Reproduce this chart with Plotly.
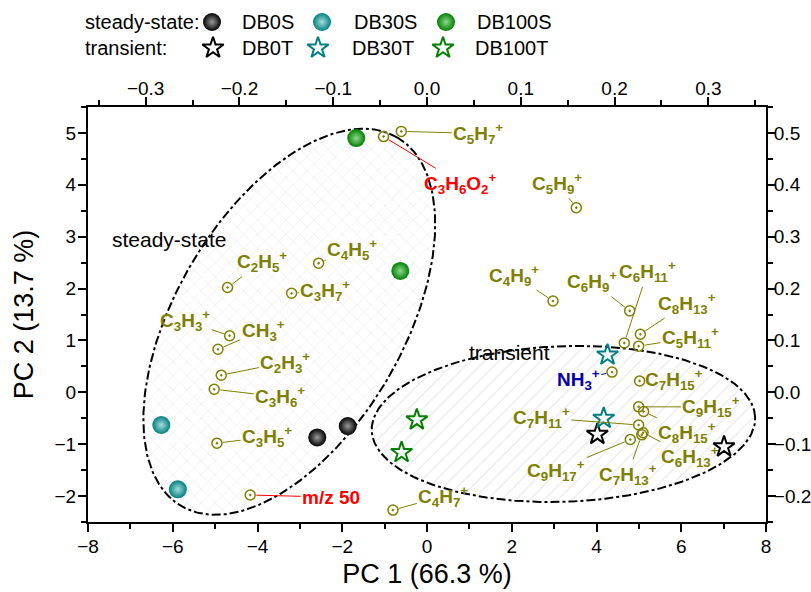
import numpy as np
import plotly.graph_objects as go

# ---------------- data ----------------
# scores (bottom / left axes)
DB0S_PC1 = [-2.59, -1.87]
DB0S_PC2 = [-0.87, -0.65]
DB30S_PC1 = [-6.27, -5.88]
DB30S_PC2 = [-0.63, -1.87]
DB100S_PC1 = [-1.67, -0.63]
DB100S_PC2 = [4.90, 2.34]
DB0T_PC1 = [4.02, 7.01]
DB0T_PC2 = [-0.81, -1.05]
DB30T_PC1 = [4.26, 4.17]
DB30T_PC2 = [0.72, -0.50]
DB100T_PC1 = [-0.24, -0.60]
DB100T_PC2 = [-0.53, -1.16]

# loadings (top / right axes)
SPECIES = ["C5H7+", "C3H6O2+", "C2H5+", "C4H5+", "C3H7+", "C3H3+", "CH3+", "C2H3+",
           "C3H6+", "C3H5+", "m/z 50", "C4H7+", "C5H9+", "C4H9+", "C6H9+", "C6H11+",
           "C8H13+", "C5H11+", "NH3+", "C7H15+", "C9H15+", "C8H15+", "C7H11+", "C6H13+",
           "C9H17+", "C7H13+"]
SPECIES_HTML = ["C<sub>5</sub>H<sub>7</sub><sup>+</sup>",
                "C<sub>3</sub>H<sub>6</sub>O<sub>2</sub><sup>+</sup>",
                "C<sub>2</sub>H<sub>5</sub><sup>+</sup>",
                "C<sub>4</sub>H<sub>5</sub><sup>+</sup>",
                "C<sub>3</sub>H<sub>7</sub><sup>+</sup>",
                "C<sub>3</sub>H<sub>3</sub><sup>+</sup>",
                "CH<sub>3</sub><sup>+</sup>",
                "C<sub>2</sub>H<sub>3</sub><sup>+</sup>",
                "C<sub>3</sub>H<sub>6</sub><sup>+</sup>",
                "C<sub>3</sub>H<sub>5</sub><sup>+</sup>",
                "m/z 50",
                "C<sub>4</sub>H<sub>7</sub><sup>+</sup>",
                "C<sub>5</sub>H<sub>9</sub><sup>+</sup>",
                "C<sub>4</sub>H<sub>9</sub><sup>+</sup>",
                "C<sub>6</sub>H<sub>9</sub><sup>+</sup>",
                "C<sub>6</sub>H<sub>11</sub><sup>+</sup>",
                "C<sub>8</sub>H<sub>13</sub><sup>+</sup>",
                "C<sub>5</sub>H<sub>11</sub><sup>+</sup>",
                "NH<sub>3</sub><sup>+</sup>",
                "C<sub>7</sub>H<sub>15</sub><sup>+</sup>",
                "C<sub>9</sub>H<sub>15</sub><sup>+</sup>",
                "C<sub>8</sub>H<sub>15</sub><sup>+</sup>",
                "C<sub>7</sub>H<sub>11</sub><sup>+</sup>",
                "C<sub>6</sub>H<sub>13</sub><sup>+</sup>",
                "C<sub>9</sub>H<sub>17</sub><sup>+</sup>",
                "C<sub>7</sub>H<sub>13</sub><sup>+</sup>"]
LOAD_PC1 = [-0.0274, -0.0463, -0.2127, -0.1156, -0.1444, -0.2105, -0.2229, -0.2194,
            -0.2269, -0.2240, -0.1885, -0.0363, 0.1592, 0.1344, 0.2161, 0.2104,
            0.2275, 0.2257, 0.1973, 0.2267, 0.2257, 0.2310, 0.2257, 0.2304,
            0.2168, 0.2290]
LOAD_PC2 = [0.503, 0.493, 0.202, 0.249, 0.191, 0.109, 0.083, 0.033,
            0.006, -0.098, -0.198, -0.227, 0.356, 0.176, 0.157, 0.095,
            0.112, 0.089, 0.039, 0.022, -0.028, -0.037, -0.063, -0.078,
            -0.091, -0.082]

# label placement (layout, in loading-axis units) and label colours (style)
LABEL_X = [0.0547, 0.0355, -0.1757, -0.0797, -0.1085, -0.2578, -0.1746, -0.1511,
           -0.1565, -0.1703, -0.1021, 0.0174, 0.1390, 0.0931, 0.1763, 0.2350,
           0.2776, 0.2808, 0.1614, 0.2638, 0.3032, 0.2776, 0.1219, 0.2800,
           0.1379, 0.2140]
LABEL_Y = [0.499, 0.403, 0.252, 0.275, 0.197, 0.138, 0.120, 0.058,
           -0.009, -0.086, -0.202, -0.200, 0.403, 0.226, 0.213, 0.232,
           0.172, 0.105, 0.024, 0.024, -0.028, -0.077, -0.049, -0.124,
           -0.150, -0.158]

OLIVE = "#808000"
RED = "#ff0000"
BLUE = "#0000b0"
LABEL_COLOR = [OLIVE] * len(SPECIES)
LABEL_COLOR[SPECIES.index("C3H6O2+")] = RED
LABEL_COLOR[SPECIES.index("m/z 50")] = RED
LABEL_COLOR[SPECIES.index("NH3+")] = BLUE

X_RANGE = [-8, 8]
Y_RANGE = [-2.5, 5.5]
TOP_RANGE = [-0.3615, 0.3615]
RIGHT_RANGE = [-0.25, 0.55]

# ---------------- layout geometry ----------------
W, H = 811, 592
ML, MR, MT, MB = 88, 45, 0, 70
PLOT_W = W - ML - MR
PLOT_H = H - MT - MB
MAIN_TOP = 107
YDOM_TOP = (PLOT_H - MAIN_TOP) / PLOT_H
PX_X = PLOT_W / (X_RANGE[1] - X_RANGE[0])
PX_Y = (PLOT_H - MAIN_TOP) / (Y_RANGE[1] - Y_RANGE[0])

FONT = "Liberation Sans, Arial, sans-serif"
BLACK = "#000000"
TEAL = "#008080"
GREEN = "#008000"


def ellipse(cx, cy, a_px, b_px, ang_deg, n=240):
    t = np.linspace(0, 2 * np.pi, n)
    p = np.radians(ang_deg)
    dx = a_px * np.cos(t) * np.cos(p) - b_px * np.sin(t) * np.sin(p)
    dy = a_px * np.cos(t) * np.sin(p) + b_px * np.sin(t) * np.cos(p)
    return cx + dx / PX_X, cy + dy / PX_Y


fig = go.Figure()

sx, sy = ellipse(-3.25, 1.36, 213.6, 113.7, 59.6)
fig.add_trace(go.Scatter(x=sx, y=sy, mode="lines", fill="toself",
                         fillcolor="rgba(255,255,255,0)",
                         fillpattern=dict(shape="x", fgcolor="#cccccc",
                                          bgcolor="rgba(255,255,255,0)", size=10, solidity=0.1),
                         line=dict(color="black", width=2, dash="dashdot"),
                         hoverinfo="skip", showlegend=False))
tx, ty = ellipse(3.22, -0.61, 191.8, 77.8, 2.0)
fig.add_trace(go.Scatter(x=tx, y=ty, mode="lines", fill="toself",
                         fillcolor="rgba(255,255,255,0)",
                         fillpattern=dict(shape="/", fgcolor="#cccccc",
                                          bgcolor="rgba(255,255,255,0)", size=10, solidity=0.1),
                         line=dict(color="black", width=2, dash="dashdot"),
                         hoverinfo="skip", showlegend=False))

# loadings
fig.add_trace(go.Scatter(x=LOAD_PC1, y=LOAD_PC2, xaxis="x2", yaxis="y2", mode="markers",
                         marker=dict(symbol="circle-open-dot", size=10, color=OLIVE,
                                     line=dict(width=1.5, color=OLIVE)),
                         text=SPECIES, showlegend=False))


def sphere(color, center):
    return dict(symbol="circle", size=18, color=color,
                gradient=dict(type="radial", color=center), line=dict(width=0))


def star(color):
    return dict(symbol="star-open", size=16, color=color, line=dict(width=2, color=color))


SCORES = [
    ("DB0S", DB0S_PC1, DB0S_PC2, sphere(BLACK, "#9a9a9a")),
    ("DB30S", DB30S_PC1, DB30S_PC2, sphere(TEAL, "#a8dcdc")),
    ("DB100S", DB100S_PC1, DB100S_PC2, sphere(GREEN, "#8fd88f")),
    ("DB0T", DB0T_PC1, DB0T_PC2, star(BLACK)),
    ("DB30T", DB30T_PC1, DB30T_PC2, star(TEAL)),
    ("DB100T", DB100T_PC1, DB100T_PC2, star(GREEN)),
]
for name, xs, ys, mk in SCORES:
    fig.add_trace(go.Scatter(x=xs, y=ys, mode="markers", marker=mk, name=name, showlegend=False))

# custom legend (own hidden axes above the plot)
LEG_ROW_Y = [22, 48]
LEG_MARK_X = [[212, 322, 446], [213, 318, 443]]
LEG_TEXT_X = [[240, 352, 475], [240, 350, 473]]
for k, (name, _, _, mk) in enumerate(SCORES):
    r, c = divmod(k, 3)
    fig.add_trace(go.Scatter(x=[LEG_MARK_X[r][c]], y=[LEG_ROW_Y[r]], xaxis="x5", yaxis="y5",
                             mode="markers", marker=mk, showlegend=False, hoverinfo="skip"))

annotations = []
for k, (name, _, _, _) in enumerate(SCORES):
    r, c = divmod(k, 3)
    annotations.append(dict(x=LEG_TEXT_X[r][c], y=LEG_ROW_Y[r], xref="x5", yref="y5",
                            text=name, showarrow=False, xanchor="left", yanchor="middle",
                            font=dict(size=20, color="black", family=FONT)))
for r, txt in enumerate(["steady-state:", "transient:"]):
    annotations.append(dict(x=(83 - ML) / PLOT_W, y=LEG_ROW_Y[r], xref="paper", yref="y5",
                            text=txt, showarrow=False, xanchor="left", yanchor="middle",
                            font=dict(size=20, color="black", family=FONT)))

# group labels
annotations.append(dict(x=-6.10, y=2.94, xref="x", yref="y", text="steady-state", showarrow=False,
                        font=dict(size=21, color="black", family=FONT)))
annotations.append(dict(x=1.94, y=0.76, xref="x", yref="y", text="transient", showarrow=False,
                        font=dict(size=21, color="black", family=FONT)))

# species labels
for i, html in enumerate(SPECIES_HTML):
    annotations.append(dict(x=LOAD_PC1[i], y=LOAD_PC2[i], xref="x2", yref="y2",
                            ax=LABEL_X[i], ay=LABEL_Y[i], axref="x2", ayref="y2",
                            text="<b>" + html + "</b>", showarrow=True, arrowhead=0,
                            arrowwidth=1, arrowcolor=LABEL_COLOR[i], standoff=6,
                            font=dict(size=19, color=LABEL_COLOR[i], family=FONT)))

axis_common = dict(showline=True, linecolor="black", linewidth=2, showgrid=False, zeroline=False,
                   ticks="outside", ticklen=8, tickwidth=1.5, tickcolor="black",
                   tickfont=dict(size=19, color="black", family=FONT), automargin=False)
inner_common = dict(showline=False, showgrid=False, zeroline=False, ticks="inside", ticklen=8,
                    tickwidth=1.5, tickcolor="black", showticklabels=False, automargin=False)
minor_out = dict(ticks="outside", ticklen=5, tickwidth=1.5, tickcolor="black")
minor_in = dict(ticks="inside", ticklen=5, tickwidth=1.5, tickcolor="black")

fig.update_layout(
    width=W, height=H, margin=dict(l=ML, r=MR, t=MT, b=MB),
    paper_bgcolor="white", plot_bgcolor="white",
    font=dict(family=FONT, color="black"),
    showlegend=False,
    xaxis=dict(**axis_common, range=X_RANGE, tick0=0, dtick=2, domain=[0, 1], anchor="y",
               minor=dict(dtick=1, **minor_out), ticklabelstandoff=-2,
               title=dict(text="PC 1 (66.3 %)", font=dict(size=27, family=FONT), standoff=8)),
    xaxis2=dict(**axis_common, range=TOP_RANGE, tick0=0, dtick=0.1, tickformat=".1f",
                overlaying="x", side="top", anchor="y", ticklabelstandoff=-6,
                minor=dict(dtick=0.05, **minor_out)),
    yaxis=dict(**axis_common, range=Y_RANGE, tick0=0, dtick=1, domain=[0, YDOM_TOP], anchor="x",
               minor=dict(dtick=0.5, **minor_out), ticklabelstandoff=-2,
               title=dict(text="PC 2 (13.7 %)", font=dict(size=27, family=FONT), standoff=13)),
    yaxis2=dict(**axis_common, range=RIGHT_RANGE, tick0=0, dtick=0.1, tickformat=".1f",
                overlaying="y", side="right", anchor="x", ticklabelstandoff=-6,
                minor=dict(dtick=0.05, **minor_out)),
    xaxis3=dict(**inner_common, range=X_RANGE, tick0=0, dtick=2, overlaying="x", side="bottom",
                anchor="y", minor=dict(dtick=1, **minor_in)),
    xaxis4=dict(**inner_common, range=TOP_RANGE, tick0=0, dtick=0.1, overlaying="x", side="top",
                anchor="y", minor=dict(dtick=0.05, **minor_in)),
    yaxis3=dict(**inner_common, range=Y_RANGE, tick0=0, dtick=1, overlaying="y", side="left",
                anchor="x", minor=dict(dtick=0.5, **minor_in)),
    yaxis4=dict(**inner_common, range=RIGHT_RANGE, tick0=0, dtick=0.1, overlaying="y", side="right",
                anchor="x", minor=dict(dtick=0.05, **minor_in)),
    xaxis5=dict(range=[ML, W - MR], domain=[0, 1], anchor="y5", visible=False, fixedrange=True),
    yaxis5=dict(range=[60, 0], domain=[(PLOT_H - 60) / PLOT_H, 1], anchor="x5", visible=False,
                fixedrange=True),
    annotations=annotations,
)

fig.write_html("out.html")
